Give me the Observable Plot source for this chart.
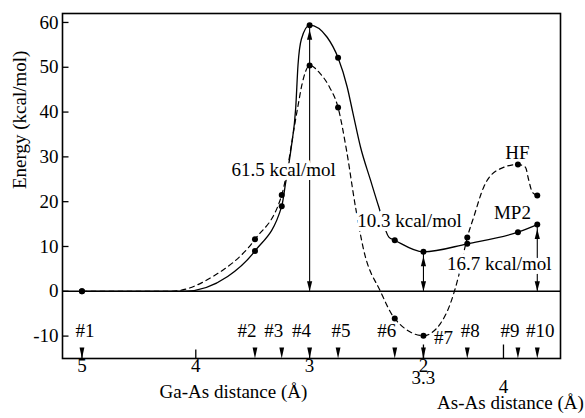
<!DOCTYPE html>
<html><head><meta charset="utf-8">
<script src="https://cdn.jsdelivr.net/npm/d3@7"></script>
<script src="https://cdn.jsdelivr.net/npm/@observablehq/plot@0.6"></script>
<style>
html,body{margin:0;padding:0;background:#fff;}
svg, svg text { font-family: "Liberation Serif", "Times New Roman", serif !important; }
</style>
</head><body><div id="chart"></div>
<script>
// ---- data ----
const structures = ["#1","#2","#3","#4","#5","#6","#7","#8","#9","#10"];
const gaAsDistance = [5.0, 3.48, 3.245, 3.0, 2.75, 2.252, 2.0, 1.615, 1.17, 1.0];
const mp2Energy = [0, 9.0, 19.0, 59.4, 52.1, 11.4, 8.8, 10.6, 13.2, 14.9];
const hfEnergy  = [0, 11.6, 21.5, 50.4, 41.0, -6.1, -9.9, 12.0, 28.3, 21.4];

// traced shape of the drawn curves
const mp2TraceX = [5.0, 4.1, 3.72, 3.48, 3.245, 3.212, 3.162, 3.122, 3.102, 3.072, 3.0, 2.846, 2.75, 2.67, 2.618, 2.553, 2.465, 2.392, 2.304, 2.252, 2.0, 1.615, 1.17, 1.0];
const mp2TraceY = [0, 0, 3.3, 9.0, 19.0, 24, 32, 41, 50.5, 56.3, 59.4, 56.7, 52.1, 45.6, 39.6, 32.2, 24.8, 18.8, 12.1, 11.4, 8.8, 10.6, 13.2, 14.9];
const hfTraceX = [5.0, 4.22, 3.85, 3.48, 3.245, 3.109, 3.066, 3.0, 2.907, 2.826, 2.75, 2.676, 2.597, 2.524, 2.378, 2.252, 2.0, 1.851, 1.763, 1.69, 1.615, 1.558, 1.47, 1.352, 1.17, 1.104, 1.075, 1.045, 1.0];
const hfTraceY = [0, 0, 3.3, 11.6, 21.5, 40.4, 46.3, 50.4, 48.6, 45.6, 41.0, 31.5, 18.8, 9.1, 0, -6.1, -9.9, -7.2, -2.7, 3.5, 12.0, 16.6, 23.3, 27.0, 28.3, 27.7, 24.8, 22.2, 21.4];

const barrierIdx = [3, 6, 9];               // structures with energy arrows
const barrierLabels = ["61.5 kcal/mol", "10.3 kcal/mol", "16.7 kcal/mol"];

const yTicks = [-10, 0, 10, 20, 30, 40, 50, 60];
const gaAsTicks = [5, 4, 3, 2];
const asAsTickLabels = ["3.3", "4"];
const asAsTickAt = [2.0, 1.297];            // position on the Ga-As axis

// ---- tables ----
const pts = structures.map((s, i) => ({s, i, x: gaAsDistance[i], mp2: mp2Energy[i], hf: hfEnergy[i]}));
const mp2Trace = mp2TraceX.map((x, i) => ({x, y: mp2TraceY[i]}));
const hfTrace = hfTraceX.map((x, i) => ({x, y: hfTraceY[i]}));
const arrows = barrierIdx.map((k, j) => ({x: gaAsDistance[k], top: mp2Energy[k], label: barrierLabels[j]}));
const asAs = asAsTickLabels.map((t, i) => ({t, x: asAsTickAt[i]}));

// ---- symbols ----
const poly = (p) => ({draw(ctx){ ctx.moveTo(p[0][0], p[0][1]); for (const q of p.slice(1)) ctx.lineTo(q[0], q[1]); ctx.closePath(); }});
const headUp = poly([[0,0],[-2.6,10],[2.6,10]]);
const headDown = poly([[0,0],[-2.6,-10],[2.6,-10]]);
const marker = poly([[0,0],[-2.4,-11],[2.4,-11]]);
const tickIn = {draw(ctx){ ctx.moveTo(0,0); ctx.lineTo(6,0); }};
const tickUp = {draw(ctx){ ctx.moveTo(0,0); ctx.lineTo(0,-9); }};
const tickUpLong = {draw(ctx){ ctx.moveTo(0,0); ctx.lineTo(0,-14); }};

const serif = "Liberation Serif";
const T = {fontFamily: serif, fontSize: 19};
const halo = {stroke: "white", strokeWidth: 8, fill: "black"};

const chart = Plot.plot({
  width: 585, height: 418,
  marginLeft: 62, marginRight: 25, marginTop: 13, marginBottom: 60,
  x: {domain: [5.171, 0.796], axis: null},
  y: {domain: [-15, 62], axis: null},
  style: "font-family: 'Liberation Serif', serif; font-size: 19px; background: white; color: black;",
  marks: [
    Plot.ruleY([0], {stroke: "black", strokeWidth: 1.4}),
    Plot.line(hfTrace, {x: "x", y: "y", curve: "monotone-x", stroke: "black", strokeWidth: 1.2, strokeDasharray: "5,4"}),
    Plot.line(mp2Trace, {x: "x", y: "y", curve: "monotone-x", stroke: "black", strokeWidth: 1.3}),
    // energy arrows
    Plot.ruleX(arrows, {x: "x", y1: 0, y2: "top", stroke: "black", strokeWidth: 1.1}),
    Plot.dot(arrows, {x: "x", y: "top", dy: 4.5, symbol: headUp, fill: "black", stroke: "none"}),
    Plot.dot(arrows, {x: "x", y: 0, symbol: headDown, fill: "black", stroke: "none"}),
    // annotations
    Plot.text([arrows[0]], {x: "x", y: 27.2, dx: -26, text: "label", ...T, ...halo}),
    Plot.text([arrows[1]], {x: "x", y: 15.7, dx: -14, text: "label", ...T, ...halo}),
    Plot.text([arrows[2]], {x: "x", y: 6.1, dx: -38, text: "label", ...T, ...halo}),
    Plot.text(["HF"], {x: 1.174, y: 30.9, text: d => d, ...T}),
    Plot.text(["MP2"], {x: 1.218, y: 17.4, text: d => d, ...T}),
    // data points
    Plot.dot(pts, {x: "x", y: "hf", r: 3, fill: "black"}),
    Plot.dot(pts, {x: "x", y: "mp2", r: 3, fill: "black"}),
    // frame and ticks
    Plot.frame({stroke: "black", strokeWidth: 1.6}),
    Plot.dot(yTicks, {y: d => d, frameAnchor: "left", symbol: tickIn, stroke: "black", fill: "none", strokeWidth: 1.3}),
    Plot.text(yTicks, {y: d => d, frameAnchor: "left", dx: -4, textAnchor: "end", text: d => String(d), ...T}),
    Plot.dot(gaAsTicks, {x: d => d, frameAnchor: "bottom", symbol: tickUp, stroke: "black", fill: "none", strokeWidth: 1.3}),
    Plot.dot(asAs, {x: "x", frameAnchor: "bottom", symbol: tickUpLong, stroke: "black", fill: "none", strokeWidth: 1.3}),
    Plot.text(gaAsTicks, {x: d => d, frameAnchor: "bottom", dy: 13, text: d => String(d), ...T}),
    Plot.text([asAs[0]], {x: "x", frameAnchor: "bottom", dy: 25, text: "t", ...T}),
    Plot.text([asAs[1]], {x: "x", frameAnchor: "bottom", dy: 34, text: "t", ...T}),
    // structure markers
    Plot.dot(pts, {x: "x", frameAnchor: "bottom", symbol: marker, fill: "black", stroke: "none"}),
    Plot.text(pts, {filter: d => [1,2,3,5,8].includes(d.i), x: "x", frameAnchor: "bottom", dy: -22, dx: -8, text: "s", ...T}),
    Plot.text(pts, {filter: d => [0,4,7,9].includes(d.i), x: "x", frameAnchor: "bottom", dy: -22, dx: 3, text: "s", ...T}),
    Plot.text(pts, {filter: d => d.i === 6, x: "x", frameAnchor: "bottom", dy: -14.5, dx: 20, text: "s", ...T}),
    // axis titles
    Plot.text(["Ga-As distance (Å)"], {x: 3.669, frameAnchor: "bottom", dy: 39, text: d => d, ...T}),
    Plot.text(["As-As distance (Å)"], {x: 1.236, frameAnchor: "bottom", dy: 50, text: d => d, ...T}),
    Plot.text(["Energy (kcal/mol)"], {frameAnchor: "left", dx: -43, dy: 3, rotate: -90, text: d => d, ...T})
  ]
});
document.getElementById("chart").appendChild(chart);
</script>
</body></html>
